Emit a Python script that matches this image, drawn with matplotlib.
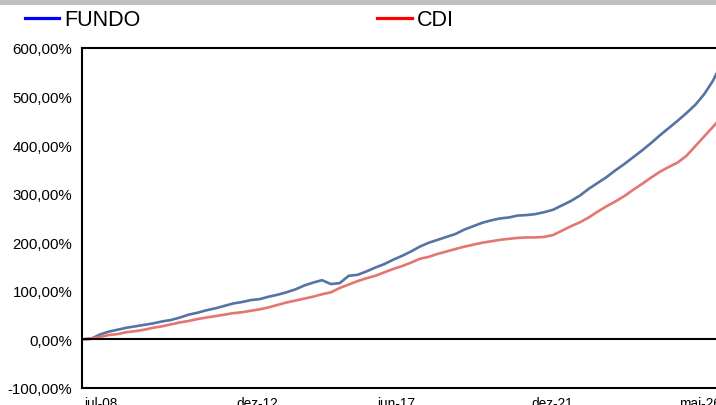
import matplotlib.pyplot as plt
import numpy as np
from matplotlib.lines import Line2D
from matplotlib.patches import Rectangle

plt.rcParams['font.family'] = ['Liberation Sans', 'DejaVu Sans']

# quarterly readings, months counted from jul-08
meses = sorted(set(np.arange(0, 216, 3).tolist() + [214]))

fundo = [0, 1, 10, 16, 20, 24, 27, 30, 33, 37,
         40, 45, 51, 55, 60, 64, 69, 74, 77, 81,
         83, 88, 92, 97, 103, 111, 117, 122, 114, 116,
         131, 133, 140, 148, 155, 164, 172, 181, 191, 199,
         205, 211, 217, 226, 233, 240, 245, 249, 251, 255,
         256, 258, 262, 267, 276, 285, 296, 310, 322, 334,
         348, 361, 375, 389, 404, 420, 435, 450, 466, 483,
         505, 533, 546]
cdi = [0, 2, 5, 9, 11, 15, 17, 20, 24, 27,
       31, 35, 38, 42, 45, 48, 51, 54, 56, 59,
       62, 66, 71, 76, 80, 84, 88, 93, 97, 106,
       113, 120, 126, 131, 138, 145, 151, 158, 166, 170,
       176, 181, 186, 191, 195, 199, 202, 205, 207, 209,
       210, 210, 211, 215, 224, 233, 241, 251, 263, 274,
       284, 295, 308, 320, 333, 345, 355, 364, 378, 398,
       418, 438, 445]

tick_labels = ['jul-08', 'dez-12', 'jun-17', 'dez-21', 'mai-26']

fig = plt.figure(figsize=(7.16, 4.06), dpi=100)
# gray band on top
fig.add_artist(Rectangle((0, 1 - 6 / 406), 1, 6 / 406, transform=fig.transFigure,
                         color='#c0c0c0', lw=0))

ax = fig.add_axes([82 / 716, 17 / 406, 640 / 716, 340 / 406])
ax.plot(meses, fundo, color='#5673a3', lw=1.9)
ax.plot(meses, cdi, color='#e3766f', lw=1.9)
ax.axhline(0, color='black', lw=1.5)

ax.set_xlim(0, 216)
ax.set_ylim(-100, 600)
ax.set_yticks(range(-100, 601, 100))
ax.set_yticklabels([f'{v},00%' for v in range(-100, 601, 100)])
ax.set_xticks([6.4, 59, 106, 158.6, 208.6])
ax.set_xticklabels(tick_labels)
ax.tick_params(axis='both', length=0)
ax.tick_params(axis='y', pad=7, labelsize=10.8)
ax.tick_params(axis='x', pad=6, labelsize=9.8)
for s in ['left', 'top', 'bottom']:
    ax.spines[s].set_linewidth(1.5)
ax.spines['right'].set_visible(False)

handles = [Line2D([], [], color='#0000ff', lw=2.3),
           Line2D([], [], color='#ff0000', lw=2.3)]
fig.legend(handles, ['FUNDO', 'CDI'], loc='center left',
           bbox_to_anchor=(25 / 716, 1 - 21 / 406), ncol=2, frameon=False,
           fontsize=15.5, handlelength=1.6, handletextpad=0.23,
           columnspacing=11.0, borderaxespad=0, borderpad=0)

fig.savefig('out.png', dpi=100)
